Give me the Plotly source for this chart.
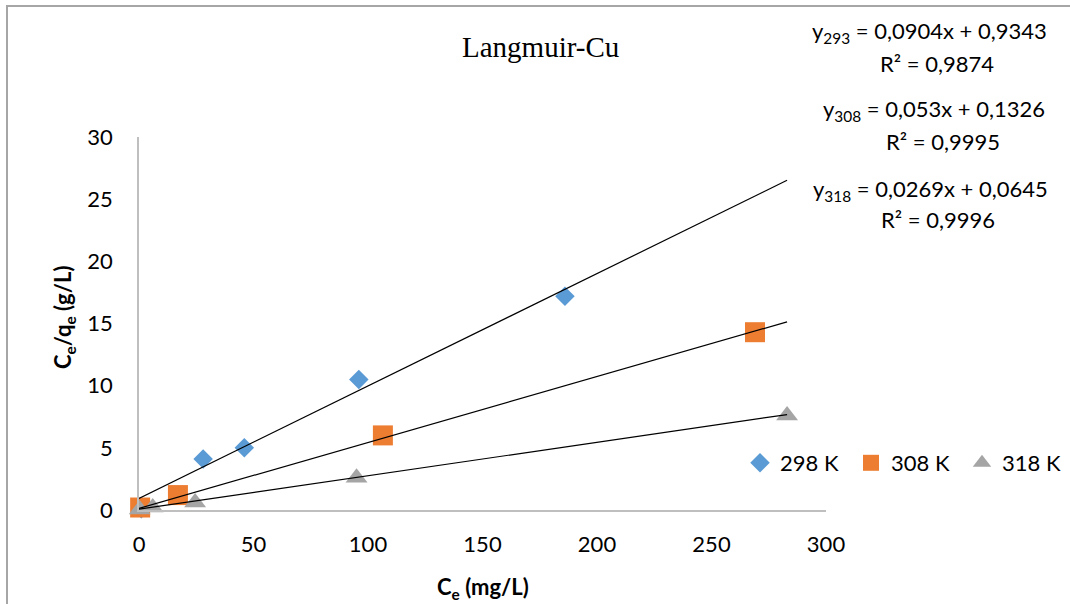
import plotly.graph_objects as go

# Langmuir linearisation for Cu adsorption: Ce/qe versus Ce at three temperatures
ce_298 = [1.0, 28.0, 46.0, 96.0, 186.0]
ratio_298 = [0.1, 4.1, 5.0, 10.5, 17.2]

ce_308 = [0.5, 17.0, 106.5, 269.0]
ratio_308 = [0.2, 1.2, 6.0, 14.3]

ce_318 = [0.3, 6.0, 24.5, 95.0, 283.0]
ratio_318 = [0.05, 0.2, 0.6, 2.6, 7.6]

series_names = ["298 K", "308 K", "318 K"]
series_colors = ["#5B9BD5", "#ED7D31", "#A5A5A5"]
series_symbols = ["diamond", "square", "triangle-up"]

# Linear fits (slope, intercept, R²) as reported for each temperature
fit_labels = ["293", "308", "318"]
fit_slopes = [0.0904, 0.053, 0.0269]
fit_intercepts = [0.9343, 0.1326, 0.0645]
fit_r2 = ["0,9874", "0,9995", "0,9996"]
fit_slope_txt = ["0,0904", "0,053", "0,0269"]
fit_intercept_txt = ["0,9343", "0,1326", "0,0645"]

x_ticks = [0, 50, 100, 150, 200, 250, 300]
y_ticks = [0, 5, 10, 15, 20, 25, 30]

W, H = 1070, 604
ML, MR, MT, MB = 139, 244, 137, 94
PW, PH = W - ML - MR, H - MT - MB

FONT = "Lato"
FS = 22


def px_x(p):
    return (p - ML) / PW


def px_y(p):
    return (H - MB - p) / PH


fig = go.Figure()

xs = [ce_298, ce_308, ce_318]
ys = [ratio_298, ratio_308, ratio_318]
sizes = [15, 20, 19]
for name, x, y, col, sym, sz in zip(series_names, xs, ys, series_colors, series_symbols, sizes):
    fig.add_trace(go.Scatter(
        x=x, y=y, mode="markers", name=name,
        marker=dict(color=col, symbol=sym, size=sz, line=dict(width=0)),
        cliponaxis=False,
    ))

# Trend lines spanning the measured concentration range
x_end = max(max(ce_298), max(ce_308), max(ce_318))
for a, b in zip(fit_slopes, fit_intercepts):
    fig.add_trace(go.Scatter(
        x=[0, x_end], y=[b, a * x_end + b], mode="lines",
        line=dict(color="black", width=1.2), showlegend=False,
        hoverinfo="skip",
    ))

axis_common = dict(
    showgrid=False, zeroline=False, showline=True,
    linecolor="#BFBFBF", linewidth=1.5, ticks="",
    tickfont=dict(family=FONT, size=FS, color="#000000"),
)
fig.update_xaxes(range=[0, 300], tickvals=x_ticks, ticklabelstandoff=14, **axis_common)
fig.update_yaxes(range=[0, 30], tickvals=y_ticks, ticklabelstandoff=20, **axis_common)

annotations = []
# Chart title
annotations.append(dict(
    x=px_x(540), y=px_y(47), xref="paper", yref="paper",
    text="Langmuir-Cu", showarrow=False, xanchor="center", yanchor="middle",
    font=dict(family="Liberation Serif", size=29, color="#000000"),
))
# Axis titles
annotations.append(dict(
    x=px_x(483), y=px_y(588), xref="paper", yref="paper",
    text="<b>C<sub>e</sub> (mg/L)</b>", showarrow=False,
    xanchor="center", yanchor="middle",
    font=dict(family=FONT, size=FS, color="#000000"),
))
annotations.append(dict(
    x=px_x(64), y=px_y(318), xref="paper", yref="paper",
    text="<b>C<sub>e</sub>/q<sub>e</sub> (g/L)</b>", showarrow=False,
    xanchor="center", yanchor="middle", textangle=-90,
    font=dict(family=FONT, size=FS, color="#000000"),
))

# Regression equations
eq_pos = [(929, 32, 937, 63), (934, 110, 943, 141), (930, 190, 938, 219)]
for (ex, ey, rx, ry), lab, a_t, b_t, r2 in zip(eq_pos, fit_labels, fit_slope_txt,
                                                fit_intercept_txt, fit_r2):
    annotations.append(dict(
        x=px_x(ex), y=px_y(ey), xref="paper", yref="paper",
        text=f"y<sub>{lab}</sub> = {a_t}x + {b_t}", showarrow=False,
        xanchor="center", yanchor="middle",
        font=dict(family=FONT, size=FS, color="#000000"),
    ))
    annotations.append(dict(
        x=px_x(rx), y=px_y(ry), xref="paper", yref="paper",
        text=f"R² = {r2}", showarrow=False,
        xanchor="center", yanchor="middle",
        font=dict(family=FONT, size=FS, color="#000000"),
    ))

fig.update_layout(
    width=W, height=H,
    margin=dict(l=ML, r=MR, t=MT, b=MB, pad=0, autoexpand=False),
    paper_bgcolor="white", plot_bgcolor="white",
    annotations=annotations,
    showlegend=True,
    legend=dict(
        orientation="h", x=px_x(740), y=px_y(463),
        xanchor="left", yanchor="middle",
        font=dict(family=FONT, size=FS, color="#000000"),
        bgcolor="rgba(0,0,0,0)", entrywidth=66, itemsizing="trace",
    ),
    shapes=[dict(
        type="rect", xref="paper", yref="paper",
        x0=px_x(7), x1=px_x(1300), y0=px_y(800), y1=px_y(6),
        line=dict(color="#A6A6A6", width=2), fillcolor="rgba(0,0,0,0)",
        layer="above",
    )],
)

fig.write_html("out.html")
